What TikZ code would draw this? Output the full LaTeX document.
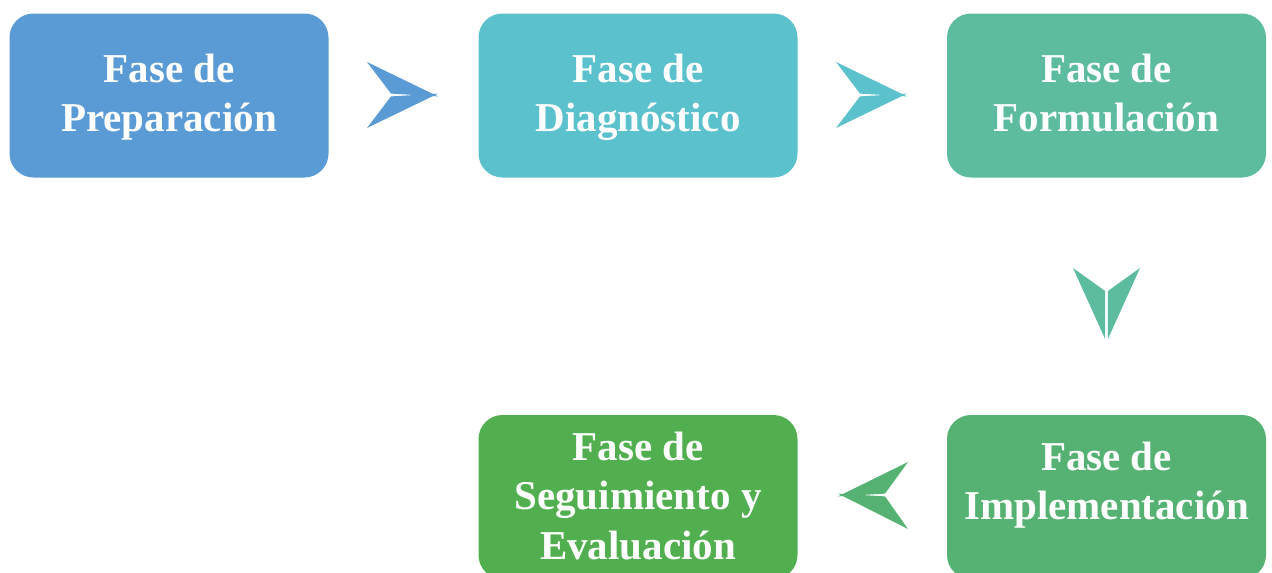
\documentclass[tikz,border=0pt]{standalone}
\usepackage{fontspec}
\setmainfont{Liberation Serif}
\definecolor{cA}{HTML}{5B9BD5}
\definecolor{cB}{HTML}{5BC1CD}
\definecolor{cC}{HTML}{5DBC9F}
\definecolor{cD}{HTML}{55B273}
\definecolor{cE}{HTML}{52AF4F}
\begin{document}
\begin{tikzpicture}[x=1pt,y=-1pt,
  phase/.style={fill=#1, rounded corners=24pt, minimum width=319pt, minimum height=164pt, inner sep=0pt},
  phasetext/.style={text=white, font=\bfseries\fontsize{41}{49.5}\selectfont, align=center, inner sep=0pt}]
\useasboundingbox (0,0) rectangle (1272,573);
\begin{scope}
\clip (0,0) rectangle (1272,573);
\node[phase=cA] (p1) at (169,95.5) {};
\node[phase=cB] (p2) at (638,95.5) {};
\node[phase=cC] (p3) at (1106.5,95.5) {};
\node[phase=cD] (p4) at (1106.5,497) {};
\node[phase=cE] (p5) at (638,497) {};
\end{scope}
\node[phasetext] (t1) at (169,97) {\strut Fase de\\\strut Preparación};
\node[phasetext] (t2) at (638,97) {\strut Fase de\\\strut Diagnóstico};
\node[phasetext] (t3) at (1106.5,97) {\strut Fase de\\\strut Formulación};
\node[phasetext] (t4) at (1106.5,485) {\strut Fase de\\\strut Implementación};
\node[phasetext] (t5) at (638,500) {\strut Fase de\\\strut Seguimiento y\\\strut Evaluación};
% arrow 1
\coordinate (a1) at (438,95);
\fill[cA] (367,62) -- ([yshift=-1.4]a1) -- (391,93.6) -- cycle;
\fill[cA] (367,128) -- ([yshift=1.4]a1) -- (391,96.4) -- cycle;
% arrow 2
\coordinate (a2) at (907,95);
\fill[cB] (836,62) -- ([yshift=-1.4]a2) -- (860,93.6) -- cycle;
\fill[cB] (836,128) -- ([yshift=1.4]a2) -- (860,96.4) -- cycle;
% arrow down
\coordinate (a3) at (1106.5,339);
\fill[cC] (1073,268) -- ([xshift=-1.4]a3) -- (1105.1,291) -- cycle;
\fill[cC] (1140,268) -- ([xshift=1.4]a3) -- (1107.9,291) -- cycle;
% arrow left
\coordinate (a4) at (838,495);
\fill[cD] (908,462) -- ([yshift=-1.4]a4) -- (885,493.6) -- cycle;
\fill[cD] (908,529) -- ([yshift=1.4]a4) -- (885,496.4) -- cycle;
\end{tikzpicture}
\end{document}
